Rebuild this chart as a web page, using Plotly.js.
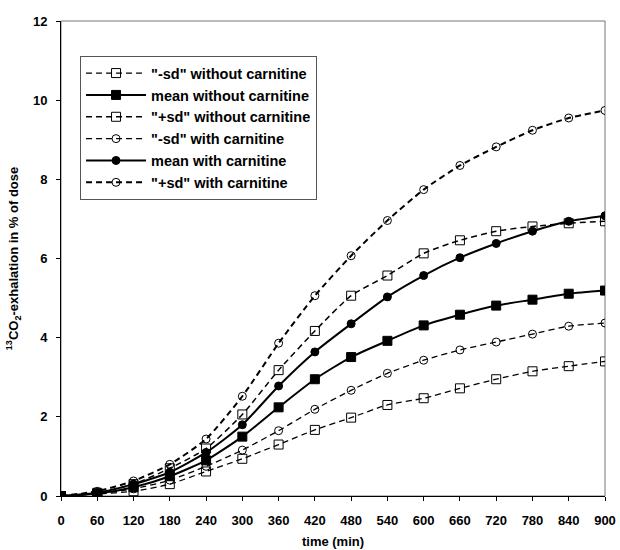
<!DOCTYPE html>
<html>
<head>
<meta charset="utf-8">
<script src="https://cdn.plot.ly/plotly-3.0.1.min.js"></script>
<style>html,body{margin:0;padding:0;background:#fff;}#chart{width:620px;height:550px;}</style>
</head>
<body>
<div id="chart"></div>
<script>
const times = [0,60,120,180,240,300,360,420,480,540,600,660,720,780,840,900];
const minusSdWithout = [0,0.05,0.12,0.30,0.62,0.94,1.30,1.67,1.98,2.30,2.47,2.72,2.95,3.15,3.28,3.40];
const meanWithout    = [0,0.06,0.22,0.50,0.90,1.50,2.24,2.95,3.51,3.92,4.31,4.58,4.81,4.96,5.11,5.19];
const plusSdWithout  = [0,0.08,0.30,0.70,1.20,2.06,3.18,4.17,5.06,5.57,6.13,6.46,6.69,6.81,6.89,6.94];
const minusSdWith    = [0,0.06,0.18,0.40,0.75,1.16,1.65,2.19,2.67,3.10,3.43,3.69,3.89,4.09,4.29,4.37];
const meanWith       = [0,0.08,0.30,0.60,1.10,1.80,2.78,3.64,4.35,5.03,5.57,6.02,6.38,6.69,6.94,7.08];
const plusSdWith     = [0,0.12,0.38,0.80,1.44,2.52,3.86,5.06,6.07,6.96,7.74,8.35,8.82,9.24,9.55,9.74];
const seriesNames = ['"-sd" without carnitine','mean without carnitine','"+sd" without carnitine',
                     '"-sd" with carnitine','mean with carnitine','"+sd" with carnitine'];
const xTicks = times;
const yTicks = [0,2,4,6,8,10,12];

const dashed = '6px,4px';
function tr(y, name, symbol, dash, width, size){
  return {x: times, y: y, name: name, type: 'scatter', mode: 'lines+markers',
    line: {color: '#000', width: width, dash: dash, shape: 'spline', smoothing: 0.6},
    marker: {symbol: symbol, size: size, color: '#000', line: {color: '#000', width: 1}}};
}
const data = [
  tr(minusSdWithout, seriesNames[0], 'square-open', dashed, 1.3, 9),
  tr(meanWithout,    seriesNames[1], 'square',      'solid', 2, 9),
  tr(plusSdWithout,  seriesNames[2], 'square-open', dashed, 1.5, 9),
  tr(minusSdWith,    seriesNames[3], 'circle-open', dashed, 1.3, 8),
  tr(meanWith,       seriesNames[4], 'circle',      'solid', 2, 8),
  tr(plusSdWith,     seriesNames[5], 'circle-open', dashed, 2, 8)
];
const layout = {
  width: 620, height: 550,
  margin: {l: 61, r: 15, t: 21, b: 54},
  paper_bgcolor: '#fff', plot_bgcolor: '#fff',
  font: {family: 'Liberation Sans, Arial, sans-serif', color: '#000'},
  showlegend: true,
  legend: {x: 0.035, y: 0.926, xanchor: 'left', yanchor: 'top',
    bgcolor: '#fff', bordercolor: '#555', borderwidth: 1,
    font: {size: 14.5, family: 'Liberation Sans, Arial, sans-serif', weight: 'bold'},
    itemwidth: 60, tracegroupgap: 0},
  xaxis: {range: [0, 900], tickvals: xTicks, ticktext: xTicks.map(String),
    showgrid: false, zeroline: false, showline: true, linecolor: '#000', linewidth: 1,
    ticks: 'outside', ticklen: 4, tickcolor: '#000', ticklabelstandoff: 8,
    tickfont: {size: 13, weight: 'bold'},
    title: {text: 'time (min)', font: {size: 13, weight: 'bold'}, standoff: 10}},
  yaxis: {range: [0, 12], tickvals: yTicks, ticktext: yTicks.map(String),
    showgrid: false, zeroline: false, showline: true, linecolor: '#000', linewidth: 1,
    ticks: 'outside', ticklen: 4, tickcolor: '#000', ticklabelstandoff: 6,
    tickfont: {size: 13, weight: 'bold'},
    title: {text: '<sup>13</sup>CO<sub>2</sub>-exhalation in % of dose', font: {size: 13, weight: 'bold'}, standoff: 11}},
  shapes: [{type: 'rect', xref: 'paper', yref: 'paper', x0: 0, x1: 1, y0: 0, y1: 1,
    line: {color: '#777', width: 1}, layer: 'below'}]
};
Plotly.newPlot('chart', data, layout, {staticPlot: true, displayModeBar: false});
</script>
</body>
</html>
